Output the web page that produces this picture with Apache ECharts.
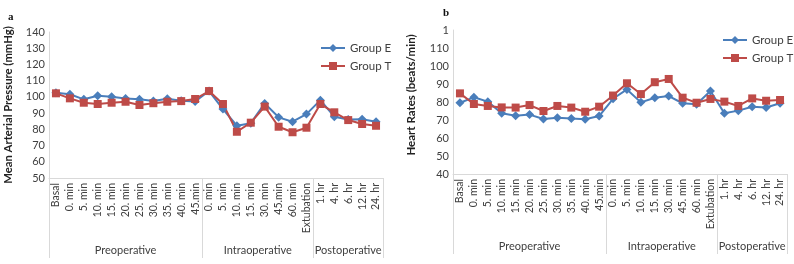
<!DOCTYPE html>
<html>
<head>
<meta charset="utf-8">
<script src="https://cdn.jsdelivr.net/npm/echarts@6/dist/echarts.min.js"></script>
<style>
  html, body { margin: 0; padding: 0; background: #fff; }
  #chart { width: 794px; height: 264px; }
</style>
</head>
<body>
<div id="chart"></div>
<script>
// categories
const catsA = ['Basal', '0. min', '5. min', '10. min', '15. min', '20. min', '25. min', '30. min', '35. min', '40. min', '45.min',
               '0. min', '5. min', '10. min', '15. min', '30. min', '45.min', '60. min', 'Extubation',
               '1. hr', '4. hr', '6. hr', '12. hr', '24. hr'];
const catsB = ['Basal', '0. min', '5. min', '10. min', '15. min', '20. min', '25. min', '30. min', '35. min', '40. min', '45.min',
               '0. min', '5. min', '10. min', '15. min', '30. min', '45. min', '60. min', 'Extubation',
               '1. hr', '4. hr', '6. hr', '12. hr', '24. hr'];
const groupNames = ['Preoperative', 'Intraoperative', 'Postoperative'];
const groupSizes = [11, 8, 5];

// a: mean arterial pressure
const mapE = [102.5, 101.6, 98.5, 100.7, 100.1, 99, 98.5, 97.5, 98.8, 97.6, 97.2,
              103.6, 92.5, 82.2, 83.8, 96, 87.4, 84.7, 89.4,
              98, 87.8, 86, 86.2, 84.7];
const mapT = [102.2, 99.1, 96.4, 95.6, 96.4, 97, 95, 96.1, 97, 97.4, 98.7,
              103.6, 95.6, 78.5, 84.1, 94, 81.6, 78.2, 81,
              95.6, 90.5, 85.7, 83.3, 82.2];

// b: heart rate
const hrE = [79.6, 82.6, 80.2, 73.7, 72.4, 73, 70.6, 71.3, 70.9, 70.4, 72.2,
             81.8, 87, 79.8, 82.4, 83.3, 79.3, 78.7, 86.1,
             73.7, 75.2, 77.4, 76.9, 79.3];
const hrT = [84.8, 78.9, 77.8, 77, 76.9, 78.3, 75, 77.8, 76.9, 74.6, 77.4,
             83.6, 90.4, 84.4, 91, 92.8, 82.4, 79.6, 81.7,
             80.2, 77.8, 82, 80.7, 81.1];

// y tick labels of b (top label is cut in the source)
const yTicksB = { 40: '40', 50: '50', 60: '60', 70: '70', 80: '80', 90: '90', 100: '100', 110: '110', 120: '1' };

const blue = '#4a7ebb';
const red = '#be4b48';
const axisGrey = '#d9d9d9';
const txt = '#404040';
const font = 'Lato';

// group separator positions and label centres
const groupEdges = [0];
const groupCenters = [];
groupSizes.forEach(function (n, i) {
    groupCenters.push(groupEdges[i] + n / 2);
    groupEdges.push(groupEdges[i] + n);
});
const total = groupEdges[groupEdges.length - 1];

function catAxis(gi, cats) {
    return {
        type: 'category', gridIndex: gi, data: cats, boundaryGap: true,
        axisLine: { lineStyle: { color: axisGrey, width: 1 } },
        axisTick: { show: false },
        axisLabel: { rotate: 90, interval: 0, margin: 5, fontSize: 10.5, color: txt, fontFamily: font }
    };
}
function groupAxis(gi) {
    return {
        type: 'value', gridIndex: gi, min: 0, max: total, position: 'bottom',
        axisLine: { show: false }, splitLine: { show: false },
        axisTick: { show: true, customValues: groupEdges, length: 80, lineStyle: { color: axisGrey } },
        axisLabel: {
            customValues: groupCenters, margin: 67, fontSize: 11, color: txt, fontFamily: font,
            formatter: function (v) { return groupNames[groupCenters.indexOf(v)]; }
        }
    };
}
function yAxis(gi, min, max, name, gap, size, shift, fmt) {
    return {
        type: 'value', gridIndex: gi, min: min, max: max, interval: 10,
        name: name, nameLocation: 'middle', nameGap: gap,
        nameTextStyle: { fontSize: size, fontWeight: 'bold', color: '#222', fontFamily: font, padding: [0, 0, 0, shift] },
        axisLine: { show: true, lineStyle: { color: axisGrey } },
        axisTick: { show: false }, splitLine: { show: false },
        axisLabel: { fontSize: 11, color: txt, margin: 4, fontFamily: font, formatter: fmt }
    };
}
function line(name, xi, yi, data, color, symbol, size) {
    return {
        name: name, type: 'line', xAxisIndex: xi, yAxisIndex: yi, data: data,
        symbol: symbol, symbolSize: size, color: color,
        lineStyle: { width: 2, color: color }, itemStyle: { color: color }
    };
}

const chart = echarts.init(document.getElementById('chart'));
chart.setOption({
    animation: false,
    title: [
        { text: 'a', left: 3, top: 7, textStyle: { fontSize: 11, fontWeight: 'bold', fontFamily: 'Liberation Serif', color: '#111' } },
        { text: 'b', left: 438, top: 3, textStyle: { fontSize: 11, fontWeight: 'bold', fontFamily: 'Liberation Serif', color: '#111' } }
    ],
    legend: [
        { data: ['Group E', 'Group T'], orient: 'vertical', left: 315, top: 37, itemGap: 6, itemWidth: 24, itemHeight: 10,
          textStyle: { fontSize: 11.5, color: txt, fontFamily: font } },
        { data: ['Group E', 'Group T'], orient: 'vertical', left: 717, top: 29, itemGap: 6, itemWidth: 24, itemHeight: 10,
          textStyle: { fontSize: 11.5, color: txt, fontFamily: font } }
    ],
    grid: [
        { left: 49, right: 411, top: 32, bottom: 86 },
        { left: 453, right: 7, top: 30, bottom: 90 }
    ],
    xAxis: [catAxis(0, catsA), groupAxis(0), catAxis(1, catsB), groupAxis(1)],
    yAxis: [
        yAxis(0, 50, 140, 'Mean Arterial Pressure (mmHg)', 35, 11.3, 0),
        yAxis(1, 40, 120, 'Heart Rates (beats/min)', 36, 11.5, 14, function (v) { return yTicksB[v]; })
    ],
    series: [
        line('Group E', 0, 0, mapE, blue, 'diamond', 9),
        line('Group T', 0, 0, mapT, red, 'rect', 8),
        line('Group E', 2, 1, hrE, blue, 'diamond', 9),
        line('Group T', 2, 1, hrT, red, 'rect', 8)
    ]
});
</script>
</body>
</html>
